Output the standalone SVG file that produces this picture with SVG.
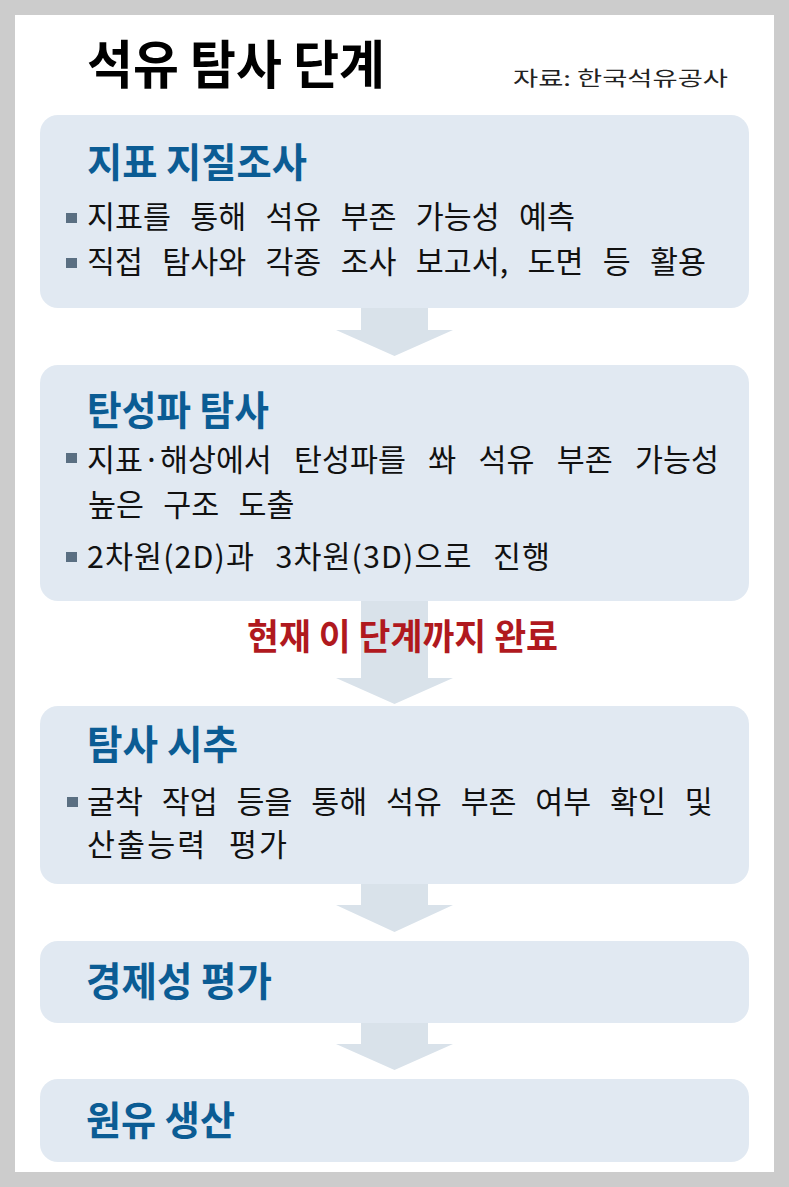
<svg xmlns="http://www.w3.org/2000/svg" width="789" height="1187" viewBox="0 0 789 1187">
<style>
.box{fill:#e1e9f2}
.arr{fill:#d9e2ea}
.ttl{font-family:"Noto Sans CJK KR","Noto Sans",sans-serif;font-weight:700;font-size:40px;fill:#0b5c94}
.body{font-family:"Noto Sans CJK KR","Noto Sans",sans-serif;font-size:30.4px;fill:#111;word-spacing:12.5px}
.blt{fill:#5a6f82}
</style>
<rect x="0" y="0" width="789" height="1187" fill="#cccccc"/>
<rect x="15" y="15" width="759" height="1157" fill="#ffffff"/>
<g id="header">
<text x="87" y="84" font-family="'Noto Sans CJK KR','Noto Sans',sans-serif" font-weight="700" font-size="52" fill="#000" textLength="298" lengthAdjust="spacingAndGlyphs">석유 탐사 단계</text>
<text x="513" y="86" font-family="'Noto Sans CJK KR','Noto Sans',sans-serif" font-size="20" fill="#222" textLength="215" lengthAdjust="spacingAndGlyphs">자료: 한국석유공사</text>
</g>
<g id="connectors">
<polygon class="arr" points="361,308 428,308 428,330 453,330 394.5,356 336,330 361,330"/>
<polygon class="arr" points="361,600 428,600 428,678 453,678 394.5,704 336,678 361,678"/>
<polygon class="arr" points="361,884 428,884 428,905 453,905 394.5,932 336,905 361,905"/>
<polygon class="arr" points="361,1023 428,1023 428,1044 453,1044 394.5,1070 336,1044 361,1044"/>
<text x="247" y="650" font-family="'Noto Sans CJK KR','Noto Sans',sans-serif" font-weight="700" font-size="36" fill="#b0191e" textLength="311" lengthAdjust="spacingAndGlyphs">현재 이 단계까지 완료</text>
</g>
<g id="step1">
<rect class="box" x="40" y="115" width="709" height="193" rx="18"/>
<text class="ttl" x="87" y="177" textLength="220" lengthAdjust="spacingAndGlyphs">지표 지질조사</text>
<rect class="blt" x="66" y="213" width="11" height="10"/>
<text class="body" x="87" y="228">지표를 통해 석유 부존 가능성 예측</text>
<rect class="blt" x="66" y="258" width="11" height="10"/>
<text class="body" x="87" y="273">직접 탐사와 각종 조사 보고서, 도면 등 활용</text>
</g>
<g id="step2">
<rect class="box" x="40" y="365" width="709" height="236" rx="18"/>
<text class="ttl" x="87" y="425" textLength="182" lengthAdjust="spacingAndGlyphs">탄성파 탐사</text>
<rect class="blt" x="66" y="453" width="11" height="10"/>
<text class="body" x="87" y="471" style="word-spacing:15.5px">지표·해상에서 탄성파를 쏴 석유 부존 가능성</text>
<text class="body" x="88" y="516">높은 구조 도출</text>
<rect class="blt" x="66" y="552" width="11" height="10"/>
<text class="body" x="87" y="568" textLength="463" lengthAdjust="spacing">2차원(2D)과 3차원(3D)으로 진행</text>
</g>
<g id="step3">
<rect class="box" x="40" y="706" width="709" height="178" rx="18"/>
<text class="ttl" x="87" y="759" textLength="151" lengthAdjust="spacingAndGlyphs">탐사 시추</text>
<rect class="blt" x="67" y="797" width="11" height="10"/>
<text class="body" x="87" y="813" style="word-spacing:12px">굴착 작업 등을 통해 석유 부존 여부 확인 및</text>
<text class="body" x="87" y="856" textLength="200" lengthAdjust="spacing">산출능력 평가</text>
</g>
<g id="step4">
<rect class="box" x="40" y="941" width="709" height="82" rx="18"/>
<text class="ttl" x="86" y="996" textLength="186" lengthAdjust="spacingAndGlyphs">경제성 평가</text>
</g>
<g id="step5">
<rect class="box" x="40" y="1079" width="709" height="83" rx="18"/>
<text class="ttl" x="86" y="1135" textLength="149" lengthAdjust="spacingAndGlyphs">원유 생산</text>
</g>
</svg>
